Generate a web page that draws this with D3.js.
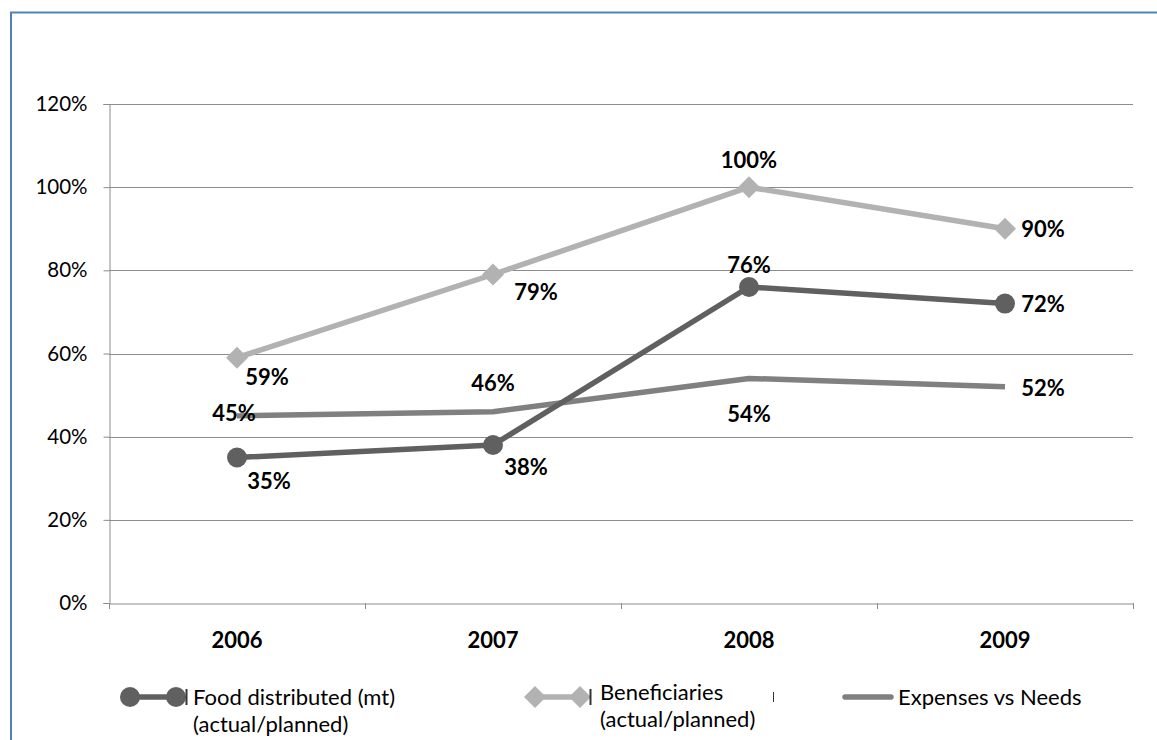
<!DOCTYPE html>
<html><head><meta charset="utf-8">
<script src="https://cdn.jsdelivr.net/npm/d3@7"></script>
<style>body{margin:0;background:#fff}svg{display:block}</style>
</head><body>
<svg id="c" width="1157" height="740"></svg>
<script>
const categories = ["2006","2007","2008","2009"];
const foodValues = [35, 38, 76, 72];
const beneficiaryValues = [59, 79, 100, 90];
const expenseValues = [45, 46, 54, 52];
const yTicks = [0,20,40,60,80,100,120];
const seriesNames = ["Food distributed (mt)\n(actual/planned)", "Beneficiaries\n(actual/planned)", "Expenses vs Needs"];

// label placements (dx, dy relative to the point), style only
const foodLabelOffsets = [[32,24],[33,22],[0,-22],[38,1]];
const benLabelOffsets = [[30,20],[43,18],[0,-27],[38,1]];
const expLabelOffsets = [[-3,-3],[0,-28],[0,36],[38,2]];

const svg = d3.select("#c");
const W = 1157, H = 740;
const m = {left:109, right:W-1133, top:104, bottom:H-603};
const FONT = "Lato, 'Open Sans', sans-serif";

// outer border (blue)
svg.append("line").attr("x1",10).attr("x2",W).attr("y1",12.5).attr("y2",12.5).attr("stroke","#4f81bd").attr("stroke-width",2);
svg.append("line").attr("x1",11).attr("x2",11).attr("y1",12).attr("y2",H).attr("stroke","#4f81bd").attr("stroke-width",2);

const x = d3.scaleBand().domain(categories).range([m.left, W-m.right]);
const y = d3.scaleLinear().domain([0,120]).range([H-m.bottom, m.top]);

// gridlines
svg.append("g").selectAll("line").data(yTicks.filter(d=>d>0)).join("line")
  .attr("x1",m.left).attr("x2",W-m.right)
  .attr("y1",d=>Math.round(y(d))+0.5).attr("y2",d=>Math.round(y(d))+0.5)
  .attr("stroke","#8c8c8c").attr("stroke-width",1);

// y axis
const yAxis = svg.append("g").attr("transform",`translate(${m.left+0.5},0)`)
  .call(d3.axisLeft(y).tickValues(yTicks).tickFormat(d=>d+"%").tickSize(6).tickPadding(16));
yAxis.select(".domain").attr("stroke","#8c8c8c");
yAxis.selectAll(".tick line").attr("stroke","#8c8c8c");
yAxis.selectAll(".tick text").attr("font-family",FONT).attr("font-size",20.5).attr("fill","#000");

// x axis
const xAxis = svg.append("g").attr("transform",`translate(0,${Math.round(y(0))+0.5})`)
  .call(d3.axisBottom(x).tickSize(0).tickPadding(29));
xAxis.select(".domain").attr("stroke","#8c8c8c");
xAxis.selectAll(".tick text").attr("font-family",FONT).attr("font-size",22).attr("font-weight","bold").attr("fill","#000");
// boundary tick marks
const bounds = categories.map(c=>x(c)).concat([x(categories[categories.length-1])+x.bandwidth()]);
svg.append("g").selectAll("line").data(bounds).join("line")
  .attr("x1",d=>Math.round(d)+0.5).attr("x2",d=>Math.round(d)+0.5)
  .attr("y1",y(0)).attr("y2",y(0)+6).attr("stroke","#8c8c8c");

const cx = c => x(c) + x.bandwidth()/2;
const line = d3.line().x((d,i)=>cx(categories[i])).y(d=>y(d));

const series = [
  {vals: expenseValues, color:"#808080", marker:null, offs:expLabelOffsets},
  {vals: beneficiaryValues, color:"#b2b2b2", marker:"diamond", offs:benLabelOffsets},
  {vals: foodValues, color:"#606060", marker:"circle", offs:foodLabelOffsets}
];

const diamond = (px,py,r) => `M${px},${py-r}L${px+r},${py}L${px},${py+r}L${px-r},${py}Z`;

series.forEach(s=>{
  svg.append("path").datum(s.vals).attr("d",line).attr("fill","none")
    .attr("stroke",s.color).attr("stroke-width",5.5).attr("stroke-linejoin","round");
  if(s.marker==="circle"){
    svg.append("g").selectAll("circle").data(s.vals).join("circle")
      .attr("cx",(d,i)=>cx(categories[i])).attr("cy",d=>y(d)).attr("r",10).attr("fill",s.color);
  } else if(s.marker==="diamond"){
    svg.append("g").selectAll("path").data(s.vals).join("path")
      .attr("d",(d,i)=>diamond(cx(categories[i]),y(d),11)).attr("fill",s.color);
  }
});
series.forEach(s=>{
  svg.append("g").selectAll("text").data(s.vals).join("text")
    .attr("x",(d,i)=>cx(categories[i])+s.offs[i][0])
    .attr("y",(d,i)=>y(d)+s.offs[i][1])
    .attr("dy","0.35em").attr("text-anchor","middle")
    .attr("font-family",FONT).attr("font-size",22).attr("font-weight","bold").attr("fill","#000")
    .text(d=>d+"%");
});

// legend
const lg = svg.append("g");
const legY = 697;
// food
lg.append("line").attr("x1",130).attr("x2",176).attr("y1",legY).attr("y2",legY).attr("stroke","#606060").attr("stroke-width",5.5);
[130,176].forEach(px=>lg.append("circle").attr("cx",px).attr("cy",legY).attr("r",10).attr("fill","#606060"));
lg.append("line").attr("x1",186.5).attr("x2",186.5).attr("y1",legY-8).attr("y2",legY+8).attr("stroke","#333").attr("stroke-width",2);
// beneficiaries
lg.append("line").attr("x1",535).attr("x2",580).attr("y1",legY).attr("y2",legY).attr("stroke","#b2b2b2").attr("stroke-width",5.5);
[535,580].forEach(px=>lg.append("path").attr("d",diamond(px,legY,11)).attr("fill","#b2b2b2"));
lg.append("line").attr("x1",590.5).attr("x2",590.5).attr("y1",legY-8).attr("y2",legY+8).attr("stroke","#333").attr("stroke-width",2);
lg.append("line").attr("x1",773.5).attr("x2",773.5).attr("y1",legY-5).attr("y2",legY+5).attr("stroke","#333").attr("stroke-width",1);
// expenses
lg.append("line").attr("x1",845).attr("x2",891).attr("y1",legY).attr("y2",legY).attr("stroke","#808080").attr("stroke-width",5.5).attr("stroke-linecap","round");

const legTexts = [{x:193,y:697},{x:600,y:692},{x:898,y:697}];
seriesNames.forEach((n,i)=>{
  const t = lg.append("text").attr("x",legTexts[i].x).attr("y",legTexts[i].y)
    .attr("font-family",FONT).attr("font-size",22).attr("fill","#000");
  n.split("\n").forEach((ln,j)=>{
    t.append("tspan").attr("x",legTexts[i].x).attr("dy", j===0 ? "0.35em" : 27).text(ln);
  });
});
</script>
</body></html>
